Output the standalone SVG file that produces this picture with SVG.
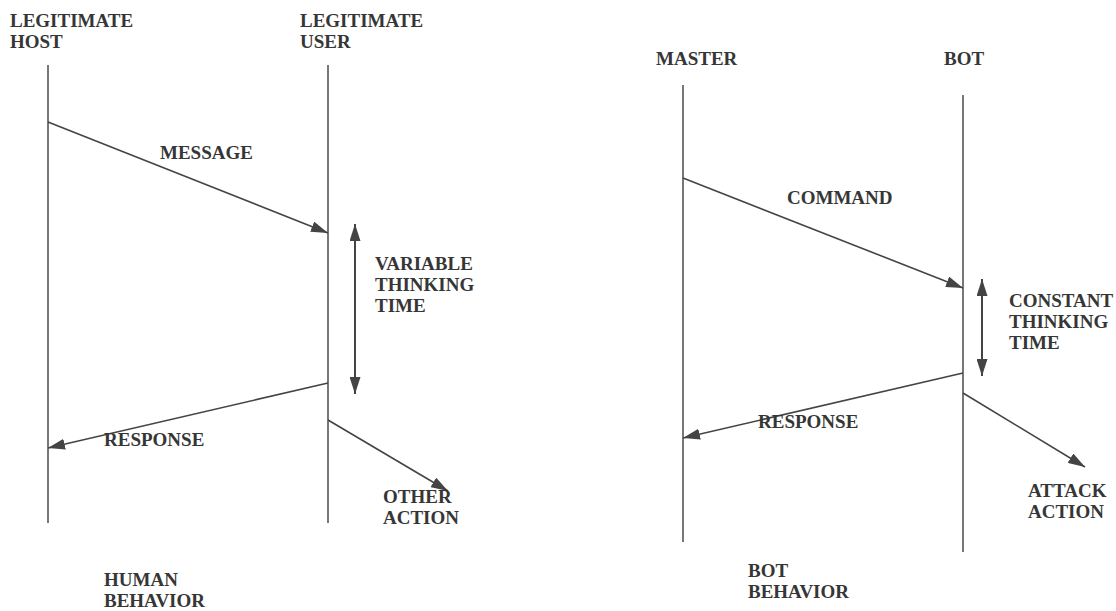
<svg xmlns="http://www.w3.org/2000/svg" width="1116" height="611" viewBox="0 0 1116 611">
  <style>
    .lbl { font-family: "Liberation Serif", "Times New Roman", serif; font-weight: bold; font-size: 19px; fill: #363636; }
    .life { stroke: #555; stroke-width: 1.6; fill: none; }
    .msg { stroke: #444; stroke-width: 1.6; fill: none; marker-end: url(#head); }
    .span { stroke: #444; stroke-width: 2; fill: none; marker-start: url(#head); marker-end: url(#head); }
  </style>
  <defs>
    <marker id="head" viewBox="0 0 17 11" refX="17" refY="5.5" markerWidth="17" markerHeight="11" markerUnits="userSpaceOnUse" orient="auto-start-reverse">
      <path d="M0,0 L17,5.5 L0,11 Z" fill="#444"/>
    </marker>
  </defs>
  <rect width="1116" height="611" fill="#fff"/>

  <!-- Human behaviour: lifelines -->
  <g id="legit-host">
    <text class="lbl" x="10" y="27">LEGITIMATE</text>
    <text class="lbl" x="10" y="48">HOST</text>
    <line class="life" x1="48" y1="65" x2="48" y2="523"/>
  </g>
  <g id="legit-user">
    <text class="lbl" x="300" y="27">LEGITIMATE</text>
    <text class="lbl" x="300" y="48">USER</text>
    <line class="life" x1="328" y1="65" x2="328" y2="523"/>
  </g>

  <!-- Bot behaviour: lifelines -->
  <g id="master">
    <text class="lbl" x="656" y="65">MASTER</text>
    <line class="life" x1="683" y1="85" x2="683" y2="542"/>
  </g>
  <g id="bot">
    <text class="lbl" x="944" y="65">BOT</text>
    <line class="life" x1="963" y1="95" x2="963" y2="552"/>
  </g>

  <!-- Messages and intervals -->
  <g id="connectors">
    <line class="msg" x1="48" y1="122" x2="328" y2="233"/>
    <line class="span" x1="355" y1="224" x2="355" y2="394"/>
    <line class="msg" x1="328" y1="383" x2="48" y2="448"/>
    <line class="msg" x1="328" y1="420" x2="448" y2="491"/>

    <line class="msg" x1="683" y1="178" x2="963" y2="288"/>
    <line class="span" x1="982" y1="279" x2="982" y2="376"/>
    <line class="msg" x1="963" y1="373" x2="683" y2="438"/>
    <line class="msg" x1="963" y1="393" x2="1085" y2="467"/>
  </g>

  <!-- Message labels -->
  <g id="labels">
    <text class="lbl" x="160" y="159">MESSAGE</text>
    <text class="lbl" x="375" y="270">VARIABLE</text>
    <text class="lbl" x="375" y="291">THINKING</text>
    <text class="lbl" x="375" y="312">TIME</text>
    <text class="lbl" x="104" y="446">RESPONSE</text>
    <text class="lbl" x="383" y="503">OTHER</text>
    <text class="lbl" x="383" y="524">ACTION</text>
    <text class="lbl" x="104" y="586">HUMAN</text>
    <text class="lbl" x="104" y="607">BEHAVIOR</text>

    <text class="lbl" x="787" y="204">COMMAND</text>
    <text class="lbl" x="1009" y="307">CONSTANT</text>
    <text class="lbl" x="1009" y="328">THINKING</text>
    <text class="lbl" x="1009" y="349">TIME</text>
    <text class="lbl" x="758" y="428">RESPONSE</text>
    <text class="lbl" x="1028" y="497">ATTACK</text>
    <text class="lbl" x="1028" y="518">ACTION</text>
    <text class="lbl" x="748" y="577">BOT</text>
    <text class="lbl" x="748" y="598">BEHAVIOR</text>
  </g>
</svg>
